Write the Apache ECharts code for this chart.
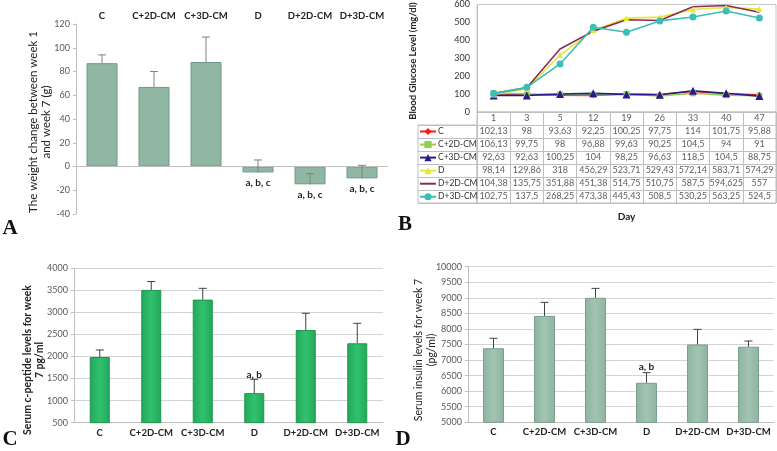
<!DOCTYPE html>
<html><head><meta charset="utf-8">
<script src="https://cdn.jsdelivr.net/npm/echarts@6/dist/echarts.min.js"></script>
<style>html,body{margin:0;padding:0;background:#fff}#c{width:777px;height:451px}</style>
</head><body><div id="c"></div>
<script>
// ---------- data ----------
const groups = ['C','C+2D-CM','C+3D-CM','D','D+2D-CM','D+3D-CM'];
// Panel A
const weightChange = [87, 67, 88, -5, -15, -10];
const weightErr = [7, 13, 21, 10.5, 9, 11];
const weightNotes = ['', '', '', 'a, b, c', 'a, b, c', 'a, b, c'];
// Panel B
const days = ['1','3','5','12','19','26','33','40','47'];
const glucC      = [102.13, 98, 93.63, 92.25, 100.25, 97.75, 114, 101.75, 95.88];
const glucC2D    = [106.13, 99.75, 98, 96.88, 99.63, 90.25, 104.5, 94, 91];
const glucC3D    = [92.63, 92.63, 100.25, 104, 98.25, 96.63, 118.5, 104.5, 88.75];
const glucD      = [98.14, 129.86, 318, 456.29, 523.71, 529.43, 572.14, 583.71, 574.29];
const glucD2D    = [104.38, 135.75, 351.88, 451.38, 514.75, 510.75, 587.5, 594.625, 557];
const glucD3D    = [102.75, 137.5, 268.25, 473.38, 445.43, 508.5, 530.25, 563.25, 524.5];
// Panel C
const cPeptide = [1990, 3510, 3290, 1170, 2600, 2300];
const cPeptideErr = [158, 190, 256, 313, 380, 453];
const cPeptideNotes = ['', '', '', 'a, b', '', ''];
// Panel D
const insulin = [7380, 8420, 9000, 6270, 7500, 7430];
const insulinErr = [320, 434, 304, 325, 487, 182];
const insulinNotes = ['', '', '', 'a, b', '', ''];

const glucSeries = [
  {name:'C', data:glucC, color:'#ff1a1a', symbol:'diamond', size:6},
  {name:'C+2D-CM', data:glucC2D, color:'#92d050', symbol:'rect', size:6},
  {name:'C+3D-CM', data:glucC3D, color:'#2b1a8e', symbol:'triangle', size:8},
  {name:'D', data:glucD, color:'#e4e83a', symbol:'triangle', size:6},
  {name:'D+2D-CM', data:glucD2D, color:'#8c2a5c', symbol:'none', size:0},
  {name:'D+3D-CM', data:glucD3D, color:'#3cbfb1', symbol:'circle', size:7}
];

const FONT = 'Lato';
const chart = echarts.init(document.getElementById('c'));

function errSeries(xi, yi, vals, errs, color) {
  return {
    type:'custom', xAxisIndex:xi, yAxisIndex:yi, z:5,
    data: vals.map((v,i)=>[i, v, v+errs[i]]),
    renderItem: function(params, api){
      const a = api.coord([api.value(0), api.value(1)]);
      const b = api.coord([api.value(0), api.value(2)]);
      const w = 4;
      const st = {stroke:color, lineWidth:1};
      return {type:'group', children:[
        {type:'line', shape:{x1:a[0],y1:a[1],x2:b[0],y2:b[1]}, style:st},
        {type:'line', shape:{x1:b[0]-w,y1:b[1],x2:b[0]+w,y2:b[1]}, style:st}
      ]};
    }
  };
}

const catLabel = {fontFamily:FONT, fontWeight:'bold', fontSize:9.5, color:'#222', interval:0};
const valLabel = {fontFamily:FONT, fontSize:9, color:'#595959', formatter:v=>String(v)};
const grayLine = {lineStyle:{color:'#bfbfbf', width:1}};

const tableRows = [''].concat(glucSeries.map(s=>s.name));
const tableData = [];
days.forEach((d,i)=>tableData.push({name:d, value:[d, '']}));
glucSeries.forEach(s=>s.data.forEach((v,i)=>tableData.push({name:String(v).replace('.', ','), value:[days[i], s.name]})));

const legendData = glucSeries.map(s=>s.symbol==='none' ? {name:s.name, itemStyle:{opacity:0}} : {name:s.name});

const option = {
  animation:false,
  textStyle:{fontFamily:FONT},
  grid:[
    {left:76, top:24, width:312, height:190},                 // A
    {left:477, top:3.5, width:299, height:108.5, show:true, borderColor:'#c8c8c8', borderWidth:1}, // B chart
    {left:477, top:112, width:299, height:91, show:true, borderColor:'#bfbfbf', borderWidth:1},    // B table
    {left:418, top:125, width:59, height:78, show:true, borderColor:'#bfbfbf', borderWidth:1},     // B legend col
    {left:74, top:268.3, width:309, height:154.4},            // C
    {left:468, top:266.7, width:306, height:155.6}            // D
  ],
  legend:{
    orient:'vertical', left:419, top:127, padding:0, itemGap:4.05, itemWidth:16, itemHeight:9,
    textStyle:{fontFamily:FONT, fontSize:8.5, color:'#333', padding:[0,0,0,-3]},
    data: legendData, selectedMode:false
  },
  xAxis:[
    {gridIndex:0, type:'category', data:groups, position:'top', axisLine:{show:false}, axisTick:{show:false}, axisLabel:Object.assign({}, catLabel, {margin:3, fontSize:9.5})},
    {gridIndex:1, type:'category', data:days, axisLine:{show:false}, axisTick:{show:false}, axisLabel:{show:false}},
    {gridIndex:2, type:'category', data:days, position:'bottom', axisLine:{show:false}, axisTick:{show:false}, axisLabel:{show:false},
      splitLine:{show:true, interval:0, lineStyle:{color:'#bfbfbf'}},
      name:'Day', nameLocation:'middle', nameGap:9, nameTextStyle:{fontFamily:FONT, fontWeight:'bold', fontSize:10, color:'#222'}},
    {gridIndex:3, type:'value', show:false, min:0, max:1},
    {gridIndex:4, type:'category', data:groups, axisLine:grayLine, axisTick:{show:false}, axisLabel:Object.assign({margin:5}, catLabel)},
    {gridIndex:5, type:'category', data:groups, axisLine:grayLine, axisTick:{show:false}, axisLabel:Object.assign({margin:5}, catLabel)}
  ],
  yAxis:[
    {gridIndex:0, type:'value', min:-40, max:120, interval:20, axisLine:{show:true, lineStyle:{color:'#bfbfbf'}}, axisTick:{show:true, length:3, lineStyle:{color:'#bfbfbf'}}, splitLine:{show:false}, axisLabel:Object.assign({margin:6}, valLabel)},
    {gridIndex:1, type:'value', min:0, max:600, interval:100, axisLine:{show:true, lineStyle:{color:'#bfbfbf'}}, axisTick:{show:false}, splitLine:{show:false}, axisLabel:{fontFamily:FONT, fontSize:9, color:'#333', margin:7}},
    {gridIndex:2, type:'category', data:tableRows, inverse:true, axisLine:{show:false}, axisTick:{show:false}, axisLabel:{show:false}, splitLine:{show:true, interval:0, lineStyle:{color:'#bfbfbf'}}},
    {gridIndex:3, type:'category', data:glucSeries.map(s=>s.name), inverse:true, axisLine:{show:false}, axisTick:{show:false}, axisLabel:{show:false}, splitLine:{show:true, interval:0, lineStyle:{color:'#bfbfbf'}}},
    {gridIndex:4, type:'value', min:500, max:4000, interval:500, axisLine:{show:true, lineStyle:{color:'#bfbfbf'}}, axisTick:{show:true, length:3, lineStyle:{color:'#bfbfbf'}}, splitLine:{show:true, lineStyle:{color:'#d4d4d4'}}, axisLabel:Object.assign({margin:6}, valLabel)},
    {gridIndex:5, type:'value', min:5000, max:10000, interval:500, axisLine:{show:true, lineStyle:{color:'#bfbfbf'}}, axisTick:{show:true, length:3, lineStyle:{color:'#bfbfbf'}}, splitLine:{show:true, lineStyle:{color:'#d4d4d4'}}, axisLabel:Object.assign({margin:6}, valLabel)}
  ],
  series:[
    // A
    {type:'bar', xAxisIndex:0, yAxisIndex:0, data:weightChange, barWidth:31,
      itemStyle:{color:'#90b7a4', borderColor:'#6f9985', borderWidth:1},
      label:{show:true, position:'bottom', distance:5, formatter:p=>weightNotes[p.dataIndex], fontFamily:FONT, fontWeight:'bold', fontSize:10, color:'#222'},
      markLine:{silent:true, symbol:'none', label:{show:false}, lineStyle:{color:'#bfbfbf', type:'solid', width:1}, data:[{yAxis:0}]}},
    errSeries(0, 0, weightChange, weightErr, '#808080'),
    // B lines
    ...glucSeries.map(s=>({
      type:'line', name:s.name, xAxisIndex:1, yAxisIndex:1, data:s.data,
      symbol:s.symbol, symbolSize:s.size, showSymbol:s.symbol!=='none',
      lineStyle:{color:s.color, width:1.6}, itemStyle:{color:s.color}
    })),
    // B table cells
    {type:'scatter', xAxisIndex:2, yAxisIndex:2, data:tableData, symbolSize:1, itemStyle:{color:'rgba(0,0,0,0)'}, silent:true,
      label:{show:true, position:'inside', formatter:'{b}', fontFamily:FONT, fontSize:9, color:'#333'}},
    // C
    {type:'bar', xAxisIndex:4, yAxisIndex:4, data:cPeptide, barWidth:20,
      itemStyle:{borderColor:'#1d944e', borderWidth:1, color:new echarts.graphic.LinearGradient(0,0,1,0,[{offset:0,color:'#22a85a'},{offset:0.5,color:'#30c26e'},{offset:1,color:'#22a85a'}])},
      label:{show:true, position:'top', distance:13, formatter:p=>cPeptideNotes[p.dataIndex], fontFamily:FONT, fontWeight:'bold', fontSize:10, color:'#222'}},
    errSeries(4, 4, cPeptide, cPeptideErr, '#404040'),
    // D
    {type:'bar', xAxisIndex:5, yAxisIndex:5, data:insulin, barWidth:21,
      itemStyle:{borderColor:'#7a9f8c', borderWidth:1, color:new echarts.graphic.LinearGradient(0,0,1,0,[{offset:0,color:'#8fb3a1'},{offset:0.5,color:'#a2c4b3'},{offset:1,color:'#8fb3a1'}])},
      label:{show:true, position:'top', distance:11, formatter:p=>insulinNotes[p.dataIndex], fontFamily:FONT, fontWeight:'bold', fontSize:10, color:'#222'}},
    errSeries(5, 5, insulin, insulinErr, '#404040')
  ],
  graphic:[
    {type:'text', x:40, y:122, rotation:Math.PI/2, style:{text:'The weight change between week 1\nand week 7 (g)', align:'center', verticalAlign:'middle', fontFamily:FONT, fontSize:11.5, lineHeight:12.5, fill:'#222'}},
    {type:'text', x:413, y:61, rotation:Math.PI/2, style:{text:'Blood Glucose Level (mg/dl)', align:'center', verticalAlign:'middle', fontFamily:FONT, fontWeight:'bold', fontSize:9.5, fill:'#222'}},
    {type:'text', x:34, y:360, rotation:Math.PI/2, style:{text:'Serum c-peptide levels for week\n7 pg/ml', align:'center', verticalAlign:'middle', fontFamily:FONT, fontWeight:'bold', fontSize:10.5, lineHeight:12, fill:'#222'}},
    {type:'text', x:425, y:350, rotation:Math.PI/2, style:{text:'Serum insulin levels for week 7\n(pg/ml)', align:'center', verticalAlign:'middle', fontFamily:FONT, fontSize:10.5, lineHeight:13, fill:'#222'}},
    {type:'text', x:10, y:229, style:{text:'A', align:'center', verticalAlign:'middle', fontFamily:'Liberation Serif', fontWeight:'bold', fontSize:21, fill:'#111'}},
    {type:'text', x:405, y:225, style:{text:'B', align:'center', verticalAlign:'middle', fontFamily:'Liberation Serif', fontWeight:'bold', fontSize:21, fill:'#111'}},
    {type:'text', x:10, y:440, style:{text:'C', align:'center', verticalAlign:'middle', fontFamily:'Liberation Serif', fontWeight:'bold', fontSize:21, fill:'#111'}},
    {type:'text', x:403, y:440, style:{text:'D', align:'center', verticalAlign:'middle', fontFamily:'Liberation Serif', fontWeight:'bold', fontSize:21, fill:'#111'}}
  ]
};
chart.setOption(option);
</script></body></html>
